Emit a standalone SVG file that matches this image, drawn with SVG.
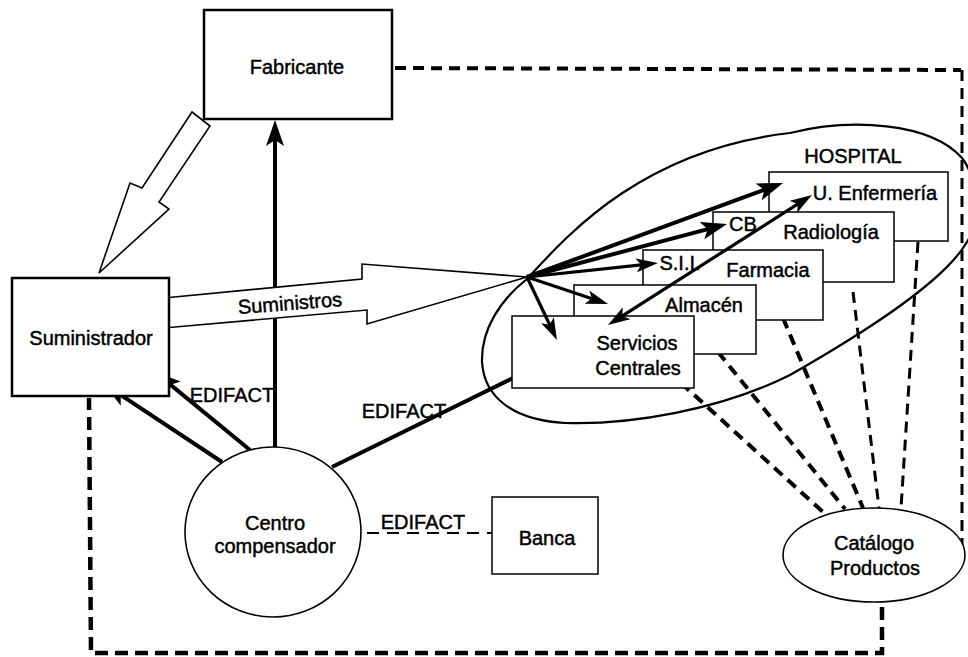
<svg xmlns="http://www.w3.org/2000/svg" width="968" height="657" viewBox="0 0 968 657">
  <style>
    .lbl { font-family: "Liberation Sans", Arial, sans-serif; font-size: 20px; fill: #000; stroke: #000; stroke-width: 0.45; text-anchor: middle; }
    .box { fill: #fff; stroke: #000; stroke-width: 1.5; }
    .bigbox { fill: #fff; stroke: #000; stroke-width: 2.5; }
    .hollow { fill: #fff; stroke: #000; stroke-width: 1.6; stroke-linejoin: miter; }
    .thick { fill: none; stroke: #000; stroke-width: 4; }
    .arr { fill: none; stroke: #000; stroke-width: 3.2; }
    .dash { fill: none; stroke: #000; stroke-width: 4; stroke-dasharray: 11 7; }
  </style>
  <defs>
    <marker id="headBig" viewBox="0 0 26 18" refX="12" refY="9" markerWidth="26" markerHeight="18" markerUnits="userSpaceOnUse" orient="auto">
      <path d="M0,0 L26,9 L0,18 L6,9 z" fill="#000"/>
    </marker>
    <marker id="headSmall" viewBox="0 0 22 14" refX="10" refY="7" markerWidth="22" markerHeight="14" markerUnits="userSpaceOnUse" orient="auto-start-reverse">
      <path d="M0,0 L22,7 L0,14 L5,7 z" fill="#000"/>
    </marker>
  </defs>

  <rect x="0" y="0" width="968" height="657" fill="#fff"/>

  <!-- hospital boundary -->
  <g id="hospital">
    <path d="M482,362 C481,330 500,300 527,279 C565,238 640,150 790,133 C850,118 930,122 962,158 C978,178 980,225 965,245 C940,285 860,335 790,375 C720,410 630,425 565,423 C510,420 484,395 482,362 Z" fill="none" stroke="#000" stroke-width="2.2"/>
    <text class="lbl" x="853" y="163">HOSPITAL</text>
  </g>

  <!-- connectors -->
  <g id="connectors">
    <!-- catalogue links (dashed) -->
    <polyline class="dash" points="395,68 961,70"/>
    <polyline class="dash" points="962,70 962,545" style="stroke-width:3"/>
    <polyline class="dash" points="882,607 882,653 91,653 89,398" style="stroke-width:4.5;stroke-dasharray:13 7"/>
    <line class="dash" x1="681" y1="383" x2="823" y2="512"/>
    <line class="dash" x1="718" y1="352" x2="845" y2="509"/>
    <line class="dash" x1="783" y1="318" x2="863" y2="508"/>
    <line class="dash" x1="853" y1="292" x2="879" y2="508" style="stroke-width:3"/>
    <line class="dash" x1="918" y1="242" x2="901" y2="508" style="stroke-width:3"/>

    <!-- Centro compensador - Banca -->
    <line x1="367" y1="533" x2="492" y2="533" stroke="#000" stroke-width="2" stroke-dasharray="12 8"/>

    <!-- EDIFACT links -->
    <line class="thick" x1="275" y1="447" x2="275" y2="134" marker-end="url(#headBig)"/>
    <line class="thick" x1="222" y1="462" x2="115.7" y2="391.7" marker-end="url(#headBig)"/>
    <line class="thick" x1="250" y1="450" x2="165.8" y2="380.9" marker-end="url(#headBig)"/>
    <line class="thick" x1="332" y1="467" x2="513" y2="378"/>

    <!-- hollow flow arrows -->
    <polygon class="hollow" points="192,112 210,126 159,202 169,209 99,273 130,183 142,188"/>
    <polygon class="hollow" points="164,298 362,279 362,264 527,277 367,324 367,310 164,328"/>
  </g>

  <!-- plain nodes -->
  <g id="fabricante">
    <rect class="bigbox" x="204" y="10" width="188" height="109"/>
    <text class="lbl" x="297" y="74">Fabricante</text>
  </g>
  <g id="suministrador">
    <rect class="bigbox" x="12" y="278" width="157" height="118"/>
    <text class="lbl" x="91" y="345">Suministrador</text>
  </g>
  <g id="centro">
    <ellipse cx="273" cy="532" rx="88" ry="85" fill="#fff" stroke="#000" stroke-width="1.6"/>
    <text class="lbl" x="275" y="530">Centro</text>
    <text class="lbl" x="275" y="553">compensador</text>
  </g>
  <g id="banca">
    <rect class="box" x="492" y="497" width="106" height="77"/>
    <text class="lbl" x="547" y="545">Banca</text>
  </g>
  <g id="catalogo">
    <ellipse cx="874" cy="555" rx="91" ry="47" fill="#fff" stroke="#000" stroke-width="1.6"/>
    <text class="lbl" x="874" y="550">Catálogo</text>
    <text class="lbl" x="875" y="575">Productos</text>
  </g>

  <!-- hospital units, back to front -->
  <g id="enfermeria">
    <rect class="box" x="769" y="172" width="179" height="69"/>
    <text class="lbl" x="875" y="200">U. Enfermería</text>
  </g>
  <g id="radiologia">
    <rect class="box" x="713" y="212" width="181" height="70"/>
    <text class="lbl" x="831" y="239">Radiología</text>
    <text class="lbl" x="743" y="231">CB</text>
  </g>
  <g id="farmacia">
    <rect class="box" x="643" y="250" width="180" height="70"/>
    <text class="lbl" x="768" y="277">Farmacia</text>
    <text class="lbl" x="680" y="270">S.I.I.</text>
  </g>
  <g id="almacen">
    <rect class="box" x="574" y="285" width="182" height="69"/>
    <text class="lbl" x="704" y="312">Almacén</text>
  </g>
  <g id="servicios">
    <rect class="box" x="512" y="316" width="182" height="72"/>
    <text class="lbl" x="637" y="350">Servicios</text>
    <text class="lbl" x="638" y="375">Centrales</text>
  </g>

  <!-- internal hospital flows -->
  <g id="hospital-flows">
    <line class="thick" x1="527" y1="277" x2="769.9" y2="187.8" marker-end="url(#headBig)"/>
    <line class="thick" x1="527" y1="277" x2="713.5" y2="227.6" marker-end="url(#headBig)"/>
    <line class="arr" x1="527" y1="277" x2="646.1" y2="264.3" marker-end="url(#headSmall)"/>
    <line class="arr" x1="527" y1="277" x2="596.6" y2="300.2" marker-end="url(#headSmall)"/>
    <line class="arr" x1="527" y1="277" x2="551.8" y2="329.2" marker-end="url(#headSmall)"/>
    <line class="arr" x1="618.1" y1="318.6" x2="801.9" y2="201.4" marker-start="url(#headSmall)" marker-end="url(#headSmall)"/>
  </g>

  <!-- link labels -->
  <g id="labels">
    <text class="lbl" x="290" y="310" transform="rotate(-4.5 290 304)">Suministros</text>
    <text class="lbl" x="232" y="402">EDIFACT</text>
    <text class="lbl" x="404" y="418">EDIFACT</text>
    <text class="lbl" x="423" y="529">EDIFACT</text>
  </g>
</svg>
